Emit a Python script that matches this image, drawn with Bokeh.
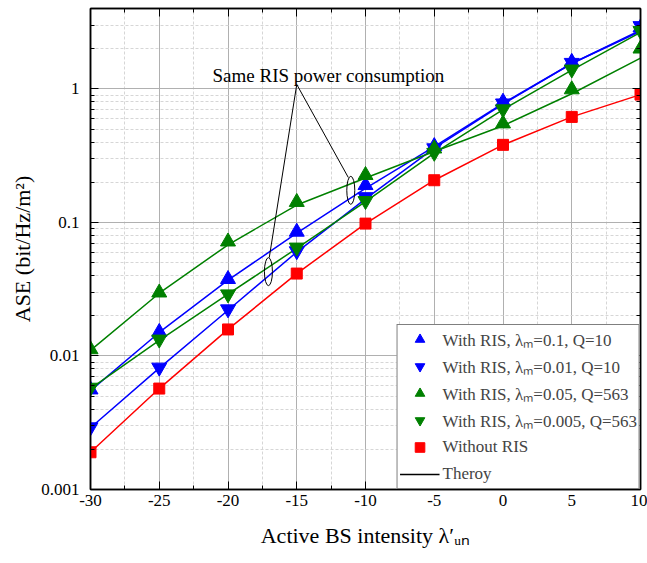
from bokeh.plotting import figure
from bokeh.models import (LinearAxis, LogAxis, FixedTicker, CustomJSTickFormatter,
                          Legend, LegendItem, Range1d)
from bokeh.embed import file_html
from bokeh.resources import INLINE
from bokeh.core.properties import value

# ---------------- data ----------------
x = [-30, -25, -20, -15, -10, -5, 0, 5, 10]

# simulation markers
blue_up = [0.0056, 0.0151, 0.0376, 0.085, 0.19, 0.372, 0.80, 1.59, 2.88]
blue_down = [0.00293, 0.0082, 0.0224, 0.061, 0.155, 0.36, 0.78, 1.57, 2.96]
green_up = [0.0112, 0.0298, 0.0718, 0.142, 0.226, 0.357, 0.55, 0.99, 2.0]
green_down = [0.0058, 0.0133, 0.029, 0.065, 0.145, 0.333, 0.705, 1.40, 2.72]
no_ris = [0.0019, 0.0057, 0.0158, 0.0414, 0.098, 0.207, 0.381, 0.617, 0.906]

# theory curves
blue_up_th = [0.0055, 0.0150, 0.037, 0.083, 0.18, 0.37, 0.78, 1.55, 2.70]
blue_down_th = [0.0029, 0.0081, 0.022, 0.060, 0.15, 0.36, 0.77, 1.55, 2.75]
green_up_th = [0.0110, 0.0295, 0.068, 0.135, 0.215, 0.34, 0.53, 0.92, 1.70]
green_down_th = [0.0057, 0.0131, 0.029, 0.064, 0.143, 0.33, 0.70, 1.38, 2.65]
no_ris_th = [0.0019, 0.0057, 0.0158, 0.0414, 0.098, 0.207, 0.381, 0.617, 0.906]

labels = ["With RIS, \u03bb\u2098=0.1, Q=10",
          "With RIS, \u03bb\u2098=0.01, Q=10",
          "With RIS, \u03bb\u2098=0.05, Q=563",
          "With RIS, \u03bb\u2098=0.005, Q=563",
          "Without RIS",
          "Theroy"]

x_ticks = [-30, -25, -20, -15, -10, -5, 0, 5, 10]
y_ticks = [0.001, 0.01, 0.1, 1]

# annotation anchors (data coords)
note_text = "Same RIS power consumption"
note_x, note_y = -12.7, 1.27
apex_x, apex_y = -15.0, 1.08
ell_x = [-17.06, -11.07]
ell_y = [0.0428, 0.174]
ell_top_x = [-17.0, -11.25]
ell_top_y = [0.0545, 0.217]

FONT = "Liberation Serif"

p = figure(width=647, height=563, x_range=Range1d(-30, 10), y_range=Range1d(0.001, 4.0),
           y_axis_type="log", output_backend="svg", toolbar_location=None,
           min_border_left=90, min_border_right=7, min_border_top=8, min_border_bottom=74)
p.background_fill_color = "white"
p.border_fill_color = "white"
p.outline_line_color = "black"
p.outline_line_width = 1.5

xminor = [v + 2.5 for v in x_ticks[:-1]]
yminor = [m * d for d in [0.001, 0.01, 0.1, 1] for m in range(2, 10) if m * d <= 4.0]
xt = FixedTicker(ticks=x_ticks, minor_ticks=xminor)
yt = FixedTicker(ticks=y_ticks, minor_ticks=yminor)
fmt = CustomJSTickFormatter(code="return tick.toString();")

p.xaxis.ticker = xt
p.yaxis.ticker = yt
p.xaxis.formatter = fmt
p.yaxis.formatter = fmt
p.xgrid.ticker = xt
p.ygrid.ticker = yt

for g in (p.xgrid[0], p.ygrid[0]):
    g.grid_line_color = "#b0b0b0"
    g.grid_line_width = 1
    g.minor_grid_line_color = "#d6d6d6"
    g.minor_grid_line_dash = "3 2"
    g.minor_grid_line_width = 1

for ax in (p.xaxis[0], p.yaxis[0]):
    ax.axis_line_color = "black"
    ax.axis_line_width = 1.5
    ax.major_tick_in = 8
    ax.major_tick_out = 0
    ax.minor_tick_in = 4
    ax.minor_tick_out = 0
    ax.major_tick_line_color = "black"
    ax.minor_tick_line_color = "black"
    ax.major_label_text_font = FONT
    ax.major_label_text_font_size = "17px"
    ax.major_label_text_color = "black"
    ax.axis_label_text_font = FONT
    ax.axis_label_text_font_style = "normal"
    ax.axis_label_text_font_size = "22px"
    ax.axis_label_text_color = "black"

p.xaxis.axis_label = "Active BS intensity \u03bb\u2032\u1d64\u2099"
p.yaxis.axis_label = "ASE (bit/Hz/m\u00b2)"
p.xaxis.major_label_standoff = 5
p.xaxis.axis_label_standoff = 14
p.yaxis.major_label_standoff = 11
p.yaxis.axis_label_standoff = 3

top = LinearAxis(ticker=xt, major_label_standoff=0,
                 major_tick_in=8, major_tick_out=0, minor_tick_in=4, minor_tick_out=0,
                 axis_line_width=1.5)
top.major_label_text_alpha = 0
top.major_label_text_font_size = "2px"
right = LogAxis(ticker=yt, major_label_standoff=0,
                major_tick_in=8, major_tick_out=0, minor_tick_in=4, minor_tick_out=0,
                axis_line_width=1.5)
right.major_label_text_alpha = 0
right.major_label_text_font_size = "2px"
p.add_layout(top, "above")
p.add_layout(right, "right")

series = [
    (blue_up, blue_up_th, "#0000ff", "triangle", 15),
    (blue_down, blue_down_th, "#0000ff", "inverted_triangle", 15),
    (green_up, green_up_th, "#008000", "triangle", 15),
    (green_down, green_down_th, "#008000", "inverted_triangle", 15),
    (no_ris, no_ris_th, "#ff0000", "square", 11),
]

items = []
for ys, yth, col, mk, sz in series:
    p.line(x, yth, line_color=col, line_width=1.5)
for (ys, yth, col, mk, sz), lab in zip(series, labels[:5]):
    r = p.scatter(x, ys, marker=mk, size=sz, fill_color=col, line_color=col)
    items.append(LegendItem(label=lab, renderers=[r]))

theory_r = p.line(x[:1], no_ris_th[:1], line_color="black", line_width=1.5, line_alpha=1)
items.append(LegendItem(label=labels[5], renderers=[theory_r]))

# annotation
p.segment(x0=[apex_x, apex_x], y0=[apex_y, apex_y], x1=ell_top_x, y1=ell_top_y,
          line_color="black", line_width=1)
p.ellipse(x=ell_x, y=ell_y, width=8, height=28, width_units="screen", height_units="screen",
          fill_color=None, line_color="black", line_width=1)
p.text(x=[note_x], y=[note_y], text=[note_text], text_font=value(FONT), text_font_size="19px",
       text_align="center", text_baseline="middle", text_color="black")

leg = Legend(items=items, location="bottom_right", margin=0, padding=2, spacing=3,
             glyph_width=40, glyph_height=24, label_height=24, label_standoff=3,
             label_text_font=FONT, label_text_font_size="17px",
             border_line_color="black", border_line_width=1.5,
             background_fill_alpha=1.0)
p.add_layout(leg, "center")

open("out.html", "w").write(file_html(p, INLINE))
